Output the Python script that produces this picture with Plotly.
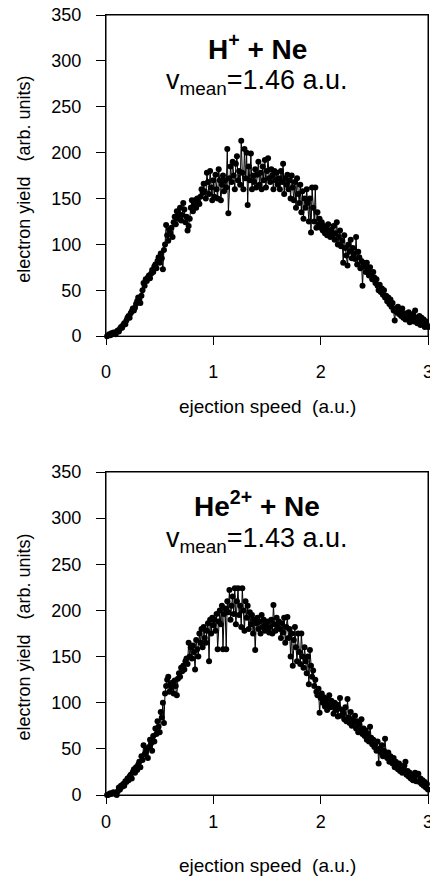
import plotly.graph_objects as go
from plotly.subplots import make_subplots

# ejection speed grid (a.u.), one sample every 0.01 from 0.01 to 3.00
speed_step = 0.01

# H+ + Ne electron yield (arb. units)
yield_h = [
    0, 1, 2, 1, 3, 2, 4, 3, 2, 5,
    6, 5, 8, 10, 9, 12, 14, 13, 17, 20,
    22, 20, 25, 27, 30, 28, 31, 35, 38, 42,
    40, 36, 44, 50, 58, 55, 62, 60, 64, 66,
    63, 68, 72, 70, 76, 78, 74, 82, 86, 80,
    90, 85, 73, 94, 100, 121, 110, 104, 116, 112,
    118, 108, 124, 130, 122, 136, 128, 133, 140, 126,
    132, 145, 138, 124, 130, 115, 120, 128, 140, 148,
    136, 143, 148, 140, 150, 146, 144, 152, 160, 156,
    166, 158, 150, 178, 168, 155, 180, 162, 148, 170,
    152, 176, 160, 150, 182, 170, 148, 165, 175, 158,
    170, 162, 204, 134, 172, 185, 168, 190, 175, 160,
    188, 196, 170, 180, 165, 213, 178, 160, 204, 172,
    200, 143, 185, 170, 199, 160, 175, 168, 182, 162,
    176, 190, 165, 178, 160, 185, 170, 192, 162, 180,
    194, 172, 168, 182, 175, 160, 180, 170, 178, 165,
    172, 160, 180, 168, 188, 155, 172, 165, 176, 160,
    170, 150, 175, 162, 148, 168, 140, 172, 155, 145,
    165, 135, 158, 128, 150, 140, 160, 145, 125, 150,
    113, 162, 140, 125, 162, 118, 135, 122, 128, 118,
    124, 115, 120, 112, 118, 110, 122, 114, 108, 116,
    110, 120, 105, 112, 124, 100, 108, 115, 98, 104,
    80, 110, 96, 88, 77, 100, 92, 105, 85, 96,
    90, 84, 108, 78, 92, 86, 74, 82, 55, 80,
    76, 70, 80, 72, 66, 75, 68, 62, 70, 64,
    58, 62, 55, 50, 56, 48, 52, 45, 50, 42,
    44, 38, 42, 35, 40, 32, 36, 28, 17, 30,
    26, 32, 24, 28, 22, 30, 20, 25, 18, 24,
    20, 26, 15, 22, 18, 24, 16, 28, 20, 14,
    18, 22, 12, 20, 15, 18, 10, 16, 12, 10,
]

# He2+ + Ne electron yield (arb. units)
yield_he = [
    0, 0, 1, 2, 1, 2, 3, 2, 1, 0,
    4, 8, 6, 10, 9, 12, 10, 15, 14, 18,
    16, 20, 22, 18, 25, 28, 24, 30, 27, 33,
    36, 30, 42, 38, 54, 44, 46, 50, 40, 52,
    60, 56, 48, 64, 58, 72, 66, 80, 74, 68,
    90, 84, 100, 78, 110, 118, 125, 128, 112, 120,
    116, 122, 110, 124, 118, 108, 126, 132, 128, 138,
    134, 140, 136, 145, 148, 142, 165, 150, 160, 148,
    162, 155, 136, 168, 158, 150, 175, 165, 180, 160,
    182, 170, 165, 178, 186, 145, 190, 175, 192, 184,
    190, 178, 196, 158, 188, 200, 185, 205, 158, 196,
    202, 158, 210, 198, 222, 190, 205, 215, 196, 224,
    185, 210, 224, 195, 205, 182, 224, 200, 178, 210,
    192, 205, 180, 198, 185, 195, 175, 190, 157, 186,
    192, 180, 188, 175, 195, 182, 190, 178, 185, 180,
    188, 176, 182, 190, 175, 206, 185, 178, 192, 182,
    188, 180, 170, 186, 176, 192, 165, 182, 193, 170,
    180, 150, 175, 140, 168, 182, 160, 145, 175, 155,
    142, 175, 150, 138, 160, 145, 132, 150, 120, 157,
    140, 128, 135, 118, 125, 112, 108, 115, 89, 105,
    110, 100, 106, 96, 104, 92, 100, 108, 95, 102,
    96, 88, 100, 92, 98, 85, 94, 105, 86, 92,
    88, 82, 95, 80, 104, 84, 78, 90, 75, 82,
    78, 86, 72, 80, 68, 76, 70, 82, 66, 72,
    64, 70, 60, 66, 58, 74, 62, 55, 60, 52,
    56, 48, 58, 34, 50, 46, 54, 42, 48, 61,
    44, 40, 46, 36, 42, 38, 34, 40, 30, 36,
    32, 28, 34, 26, 30, 24, 28, 32, 36, 22,
    26, 20, 24, 18, 22, 16, 20, 24, 15, 22,
    23, 14, 18, 12, 16, 10, 14, 8, 12, 6,
]

speed_h = [round(speed_step * (i + 1), 2) for i in range(len(yield_h))]
speed_he = [round(speed_step * (i + 1), 2) for i in range(len(yield_he))]

panel_titles = ['<b>H<sup>+</sup> + Ne</b>', '<b>He<sup>2+</sup> + Ne</b>']
panel_vmean = ['v<sub>mean</sub>=1.46 a.u.', 'v<sub>mean</sub>=1.43 a.u.']

x_ticks = [0, 1, 2, 3]
y_ticks = [0, 50, 100, 150, 200, 250, 300, 350]

FONT = 'Liberation Sans, Arial, Helvetica, sans-serif'

fig = make_subplots(rows=2, cols=1, vertical_spacing=0.1765)

for i, (xs, ys) in enumerate([(speed_h, yield_h), (speed_he, yield_he)]):
    fig.add_trace(
        go.Scatter(
            x=xs, y=ys,
            mode='lines+markers',
            line=dict(color='black', width=1),
            marker=dict(color='black', size=6),
            showlegend=False,
            cliponaxis=False,
        ),
        row=i + 1, col=1
    )

axis_common = dict(
    showline=True, linecolor='black', linewidth=1, mirror=True,
    ticks='outside', tickcolor='black', tickwidth=1,
    showgrid=False, zeroline=False, automargin=False,
    ticklabeloverflow='allow',
    tickfont=dict(family=FONT, size=18, color='black'),
)

# x tick labels sit a bit lower under the top panel than under the bottom one
x_standoff = {1: 11, 2: 2}
for r in (1, 2):
    fig.update_xaxes(range=[0, 3], tickvals=x_ticks, ticklen=8,
                     ticklabelstandoff=x_standoff[r], row=r, col=1, **axis_common)
    fig.update_yaxes(range=[0, 350], tickvals=y_ticks, ticklen=9,
                     ticklabelstandoff=11, row=r, col=1, **axis_common)

# domains tuned to the reference pixel positions
fig.update_layout(
    yaxis=dict(domain=[0.5883, 1.0]),
    yaxis2=dict(domain=[0.0, 0.4141]),
)

annotations = []
shapes = []
for i, (yref, xref) in enumerate([('y domain', 'x domain'), ('y2 domain', 'x2 domain')]):
    # frame drawn explicitly so the top edge is always visible
    shapes.append(dict(type='rect', xref=xref, yref=yref, x0=0, x1=1, y0=0, y1=1,
                       line=dict(color='black', width=1), layer='above'))
    annotations.append(dict(
        text=panel_titles[i], xref=xref, yref=yref, x=0.47, y=0.90,
        showarrow=False, xanchor='center', yanchor='middle',
        font=dict(family=FONT, size=28, color='black')))
    annotations.append(dict(
        text=panel_vmean[i], xref=xref, yref=yref, x=0.47, y=0.79,
        showarrow=False, xanchor='center', yanchor='middle',
        font=dict(family=FONT, size=27, color='black')))
    annotations.append(dict(
        text='ejection speed  (a.u.)', xref=xref, yref=yref, x=0.5, y=-0.219,
        showarrow=False, xanchor='center', yanchor='middle',
        font=dict(family=FONT, size=19, color='black')))
    annotations.append(dict(
        text='electron yield   (arb. units)', xref=xref, yref=yref, x=-0.255, y=0.49,
        showarrow=False, xanchor='center', yanchor='middle', textangle=-90,
        font=dict(family=FONT, size=18, color='black')))

# the page body adds an 8px offset, so the figure is 8px smaller than the window
fig.update_layout(
    width=430, height=871,
    margin=dict(l=98, r=10, t=7, b=84),
    plot_bgcolor='white', paper_bgcolor='white',
    annotations=annotations,
    shapes=shapes,
)

fig.write_html('out.html')
